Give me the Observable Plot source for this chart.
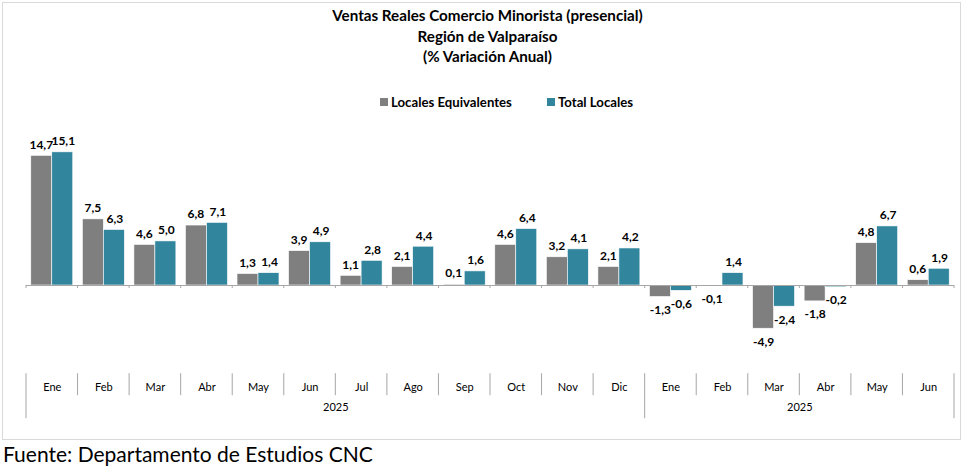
<!DOCTYPE html>
<html>
<head>
<meta charset="utf-8">
<script src="https://cdn.jsdelivr.net/npm/d3@7"></script>
<script src="https://cdn.jsdelivr.net/npm/@observablehq/plot@0.6"></script>
<style>
  body { margin: 0; background: #fff; font-family: Lato, "Liberation Sans", sans-serif; }
  #wrap { position: relative; width: 967px; height: 472px; }
  #frame { position: absolute; left: 2px; top: 2px; width: 957px; height: 436px; border: 1px solid #d9d9d9; }
  #title { position: absolute; left: 0; width: 975px; top: 5px; text-align: center; font-weight: bold; font-size: 15.2px; line-height: 20.5px; color: #000; }
  #legend { position: absolute; top: 94px; left: 0; width: 967px; height: 16px; font-weight: bold; font-size: 13.2px; }
  .lg { position: absolute; top: 0; line-height: 16px; white-space: nowrap; }
  .sw { display: inline-block; width: 8px; height: 8px; margin-right: 3px; vertical-align: 1px; }
  #chart { position: absolute; left: 0; top: 0; }
  #source { position: absolute; left: 3px; top: 441px; font-size: 21px; color: #000; }
</style>
</head>
<body>
<div id="wrap">
  <div id="frame"></div>
  <div id="chart"></div>
  <div id="title">Ventas Reales Comercio Minorista (presencial)<br>Región de Valparaíso<br>(% Variación Anual)</div>
  <div id="legend">
    <span class="lg" style="left:380px"><span class="sw" style="background:#7f7f7f"></span>Locales Equivalentes</span>
    <span class="lg" style="left:547px"><span class="sw" style="background:#31859c"></span>Total Locales</span>
  </div>
  <div id="source">Fuente: Departamento de Estudios CNC</div>
</div>
<script>
const months = ["Ene","Feb","Mar","Abr","May","Jun","Jul","Ago","Sep","Oct","Nov","Dic","Ene","Feb","Mar","Abr","May","Jun"];
const yearLabels = ["2025","2025"];
const yearStart = [0, 12];
const yearEnd = [12, 18];
const localesEquivalentes = [14.7,7.5,4.6,6.8,1.3,3.9,1.1,2.1,0.1,4.6,3.2,2.1,-1.3,-0.1,-4.9,-1.8,4.8,0.6];
const totalLocales = [15.1,6.3,5.0,7.1,1.4,4.9,2.8,4.4,1.6,6.4,4.1,4.2,-0.6,1.4,-2.4,-0.2,6.7,1.9];

const keys = months.map((m, i) => String(i));
const data = keys.map((k, i) => ({key: k, eq: localesEquivalentes[i], tot: totalLocales[i]}));
const fmt = v => v.toFixed(1).replace(".", ",");

const W = 967, H = 440, mL = 26, mR = 13, mT = 143.9, mB = 66.8;
const step = (W - mL - mR) / months.length;
const half = step / 2;
const outer = 4.8;
const barW = half - outer;
const gray = "#7f7f7f", teal = "#31859c";
const years = yearLabels.map((t, i) => ({t, key: keys[(yearStart[i] + yearEnd[i]) / 2]}));

const grayDx = outer + barW / 2 - half;
const tealDx = barW / 2;
const labelOpts = {fontWeight: "bold", fontSize: 12, fill: "#000"};
const plot = Plot.plot({
  width: W, height: H,
  marginLeft: mL, marginRight: mR, marginTop: mT, marginBottom: mB,
  style: {fontFamily: "Lato, sans-serif", background: "transparent", overflow: "visible"},
  x: {type: "band", domain: keys, padding: 0, round: false, axis: null, label: null},
  y: {domain: [-10, 16], axis: null},
  marks: [
    Plot.barY(data, {x: "key", y: "eq", fill: gray, stroke: "#fff", strokeWidth: 0.6, insetLeft: outer, insetRight: half}),
    Plot.barY(data, {x: "key", y: "tot", fill: teal, stroke: "#fff", strokeWidth: 0.6, insetLeft: half, insetRight: outer}),
    Plot.ruleY([0], {stroke: "#a6a6a6", strokeWidth: 1}),
    Plot.text(data.filter(d => d.eq >= 0), {x: "key", y: "eq", text: d => fmt(d.eq), dx: grayDx - 0.5, dy: -11, ...labelOpts}),
    Plot.text(data.filter(d => d.eq < 0), {x: "key", y: "eq", text: d => fmt(d.eq), dx: grayDx, dy: 13, ...labelOpts}),
    Plot.text(data.filter(d => d.tot >= 0), {x: "key", y: "tot", text: d => fmt(d.tot), dx: tealDx + 0.5, dy: -11, ...labelOpts}),
    Plot.text(data.filter(d => d.tot < 0), {x: "key", y: "tot", text: d => fmt(d.tot), dx: tealDx, dy: 13, ...labelOpts}),
    Plot.axisX({tickSize: 0, tickPadding: 9, fontSize: 11, tickFormat: i => months[+i], color: "#000", anchor: "bottom", label: null}),
    Plot.text(years, {x: "key", text: "t", frameAnchor: "bottom", dy: 37, dx: -half, fontSize: 11, fill: "#000"})
  ]
});
document.getElementById("chart").appendChild(plot);

// category / year separator lines placed with the plot's own scales
const xs = plot.scale("x"), ys = plot.scale("y");
const svg = d3.select(plot);
const dec = svg.append("g").attr("stroke", "#a6a6a6").attr("stroke-width", 1);
const y0 = ys.apply(0), yb = H - mB;
const bounds = keys.map(k => xs.apply(k)).concat([xs.apply(keys[keys.length - 1]) + xs.bandwidth]);
bounds.forEach((bx, i) => {
  dec.append("line").attr("x1", bx).attr("x2", bx).attr("y1", y0).attr("y2", y0 + 3);
  const isYear = yearStart.includes(i) || i === keys.length;
  dec.append("line").attr("x1", bx).attr("x2", bx).attr("y1", yb).attr("y2", isYear ? yb + 45 : yb + 22);
});
</script>
</body>
</html>
